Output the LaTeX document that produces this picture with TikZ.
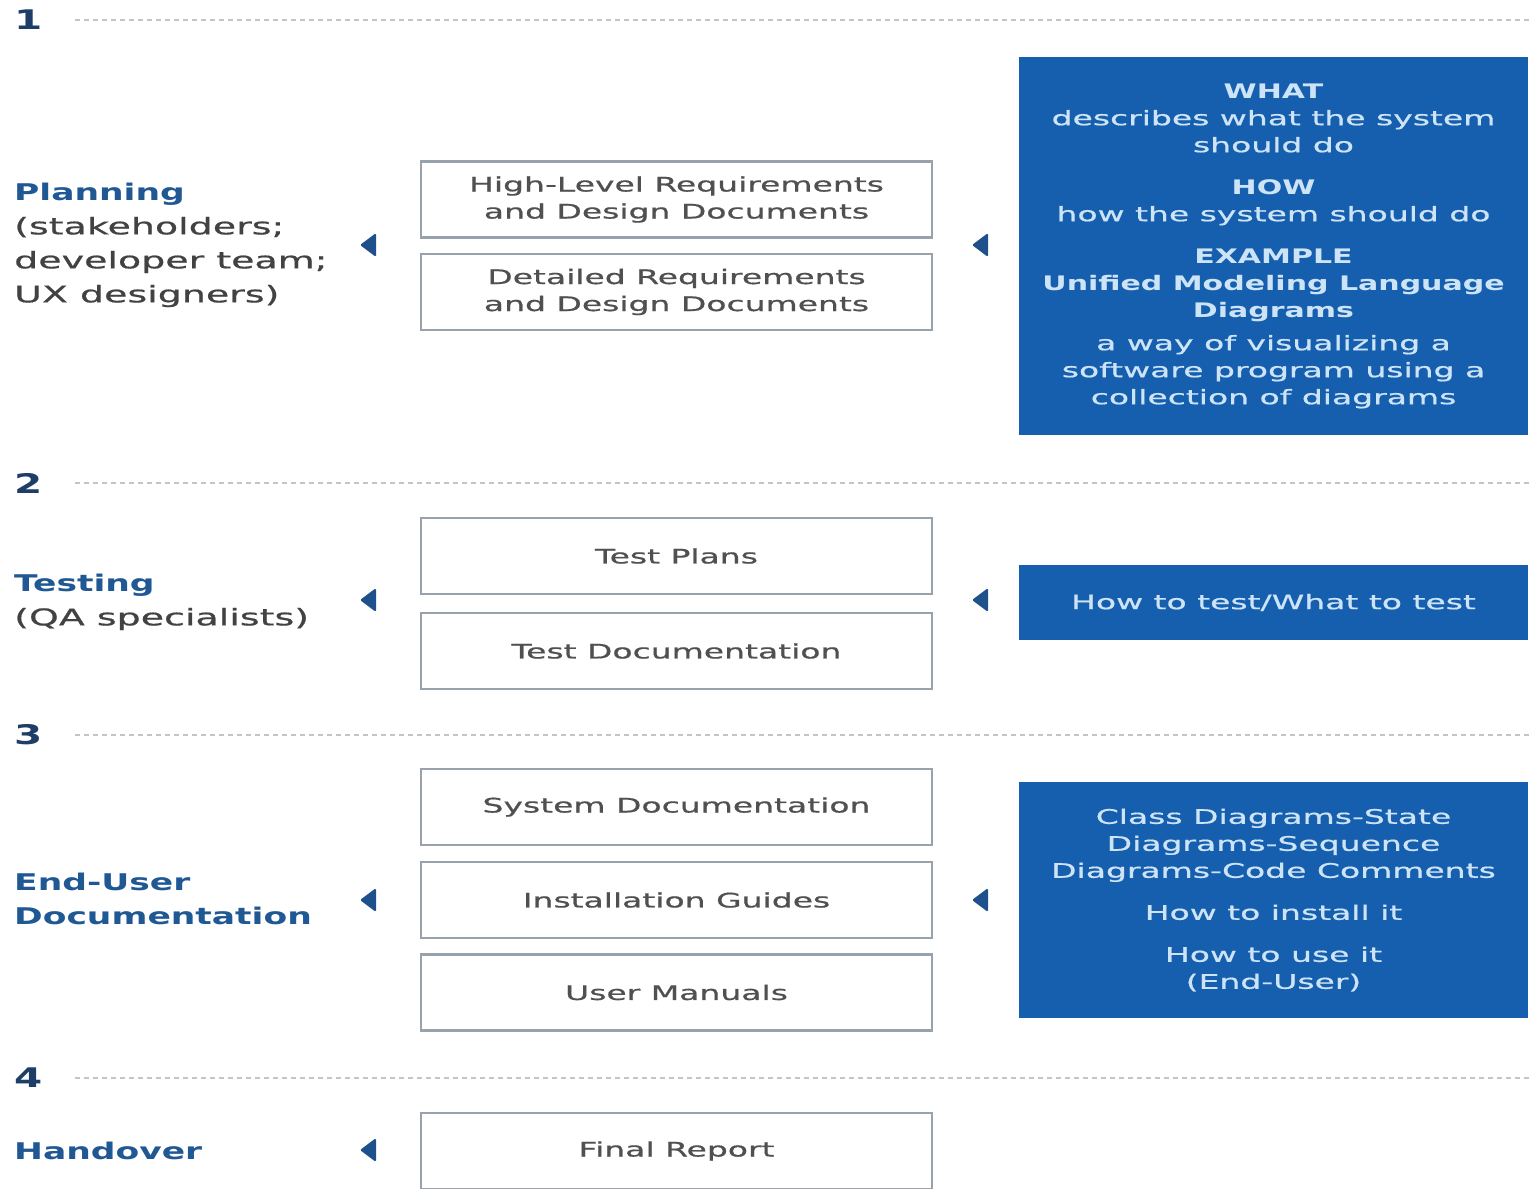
\documentclass[tikz,border=0pt]{standalone}
\usepackage{fontspec}
\setmainfont{DejaVu Sans}[FakeStretch=1.65, UprightFeatures={FakeBold=0.7}, BoldFeatures={FakeStretch=1.5}]
\usepackage{tikz}
\definecolor{noteblue}{RGB}{22,95,175}
\definecolor{notetext}{RGB}{205,228,247}
\definecolor{labelblue}{RGB}{32,88,148}
\definecolor{numblue}{RGB}{30,62,104}
\definecolor{labelgray}{RGB}{66,66,66}
\definecolor{docgray}{RGB}{80,80,80}
\definecolor{boxgray}{RGB}{152,162,172}
\definecolor{sepgray}{RGB}{196,196,196}
\definecolor{arrowblue}{RGB}{30,80,140}

\begin{document}
\begin{tikzpicture}[x=1pt,y=-1pt]
% Default styles for each kind of node
\tikzstyle{stepnum} = [anchor=west, inner sep=0pt, text=numblue, font=\fontsize{27}{30}\selectfont\bfseries]
\tikzstyle{sep} = [draw=sepgray, line width=2pt, dash pattern=on 5pt off 4pt]
\tikzstyle{phase} = [anchor=west, align=left, inner sep=0pt, text=labelgray, font=\fontsize{23}{34}\selectfont]
\tikzstyle{doc} = [draw=boxgray, line width=2.5pt, fill=white, minimum width=511pt, minimum height=76pt, inner sep=0pt, align=center, text=docgray, font=\fontsize{20}{27}\selectfont]
\tikzstyle{note} = [fill=noteblue, minimum width=509pt, inner sep=0pt, align=center, text=notetext, font=\fontsize{20}{27}\selectfont]
\tikzstyle{marker} = [fill=arrowblue, rounded corners=1.5pt]
\useasboundingbox (0,0) rectangle (1533,1188);
% Step numbers and dotted separators
\node [stepnum] (n1) at (14,20) {1};
\node [stepnum] (n2) at (14,483) {2};
\node [stepnum] (n3) at (14,735) {3};
\node [stepnum] (n4) at (14,1078) {4};
\foreach \y in {20,483,735,1078}
  \draw [sep] (75,\y) -- (1530,\y);
% Phases on the left
\node [phase] (planning) at (14,245) {\textcolor{labelblue}{\bfseries Planning}\\(stakeholders;\\developer team;\\UX designers)};
\node [phase] (testing) at (14,602) {\textcolor{labelblue}{\bfseries Testing}\\(QA specialists)};
\node [phase, text=labelblue, font=\fontsize{23}{34}\selectfont\bfseries] (enduser) at (14,899) {End-User\\Documentation};
\node [phase, text=labelblue, font=\fontsize{23}{34}\selectfont\bfseries] (handover) at (14,1151) {Handover};
% Documents in the middle
\node [doc] (hlreq) at (676.5,199.5) {High-Level Requirements\\and Design Documents};
\node [doc] (detreq) at (676.5,292) {Detailed Requirements\\and Design Documents};
\node [doc] (testplans) at (676.5,556) {Test Plans};
\node [doc] (testdoc) at (676.5,651) {Test Documentation};
\node [doc] (sysdoc) at (676.5,807) {System Documentation};
\node [doc] (install) at (676.5,900) {Installation Guides};
\node [doc] (manuals) at (676.5,992.5) {User Manuals};
\node [doc] (report) at (676.5,1151) {Final Report};
% Notes on the right
\node [note, minimum height=378pt] (what) at (1273.5,246) {{\bfseries WHAT}\\describes what the system\\should do\\[15pt]{\bfseries HOW}\\how the system should do\\[15pt]{\bfseries EXAMPLE}\\{\bfseries Unified Modeling Language}\\{\bfseries Diagrams}\\[6pt]a way of visualizing a\\software program using a\\collection of diagrams};
\node [note, minimum height=75pt] (howtest) at (1273.5,602.5) {How to test/What to test};
\node [note, minimum height=236pt] (diagrams) at (1273.5,900) {Class Diagrams-State\\Diagrams-Sequence\\Diagrams-Code Comments\\[15pt]How to install it\\[15pt]How to use it\\(End-User)};
% Small arrow heads pointing left
\foreach \y in {245,600,900,1150}
  \fill [marker] (360,\y) -- (376,\y-12) -- (376,\y+12) -- cycle;
\foreach \y in {245,600,900}
  \fill [marker] (972,\y) -- (988,\y-12) -- (988,\y+12) -- cycle;
\end{tikzpicture}
\end{document}
